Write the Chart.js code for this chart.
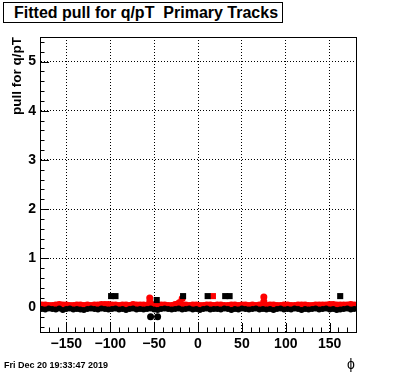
<!DOCTYPE html>
<html>
<head>
<meta charset="utf-8">
<script src="https://cdn.jsdelivr.net/npm/chart.js@4.4.1/dist/chart.umd.min.js"></script>
<style>
  body { margin: 0; background: #fff; }
  #wrap { position: relative; width: 396px; height: 372px; font-family: "Liberation Sans", Arial, sans-serif; }
  #plot { position: absolute; left: 0; top: 0; }
  #title { position: absolute; left: 3px; top: 2px; width: 268px; height: 19px; border: 1px solid #000; background: #fff;
           font-weight: bold; font-size: 16px; line-height: 19px; padding-left: 10px; box-sizing: content-box; white-space: pre; }
  #date { position: absolute; left: 4px; top: 360px; font-size: 9px; font-weight: bold; }
  #xlab { position: absolute; left: 347px; top: 356px; font-size: 14px; }
</style>
</head>
<body>
<div id="wrap">
  <canvas id="plot" width="396" height="372"></canvas>
  <div id="title">Fitted pull for q/pT  Primary Tracks</div>
  <div id="date">Fri Dec 20 19:33:47 2019</div>
  <div id="xlab">ϕ</div>
</div>
<script>
// phi bin centres (degrees)
const phi = [-178,-174,-170,-166,-162,-158,-154,-150,-146,-142,
             -138,-134,-130,-126,-122,-118,-114,-110,-106,-102,
             -98,-94,-90,-86,-82,-78,-74,-70,-66,-62,
             -58,-54,-50,-46,-42,-38,-34,-30,-26,-22,
             -18,-14,-10,-6,-2,2,6,10,14,18,
             22,26,30,34,38,42,46,50,54,58,
             62,66,70,74,78,82,86,90,94,98,
             102,106,110,114,118,122,126,130,134,138,
             142,146,150,154,158,162,166,170,174,178];

// black series: pull, first set (mostly hidden under the red band)
const blackPull = [-0.03,-0.04,-0.02,-0.03,-0.04,-0.02,-0.05,-0.03,-0.02,-0.04,
                   -0.03,-0.04,-0.05,-0.03,-0.02,-0.03,-0.04,-0.02,-0.03,-0.04,
                   -0.03,-0.02,-0.04,-0.03,-0.05,-0.03,-0.02,-0.04,-0.03,-0.04,
                   -0.03,-0.02,-0.04,-0.05,-0.03,-0.02,-0.03,-0.04,-0.03,-0.02,
                   -0.04,-0.03,-0.02,-0.04,-0.03,-0.05,-0.03,-0.02,-0.04,-0.03,
                   -0.03,-0.04,-0.02,-0.03,-0.05,-0.03,-0.04,-0.02,-0.03,-0.04,
                   -0.03,-0.02,-0.04,-0.03,-0.04,-0.03,-0.05,-0.03,-0.02,-0.04,
                   -0.03,-0.04,-0.02,-0.03,-0.05,-0.03,-0.04,-0.03,-0.02,-0.04,
                   -0.03,-0.02,-0.04,-0.03,-0.05,-0.04,-0.03,-0.02,-0.04,-0.03];

// red series: pull, second set
const redPull = [0.03,0.03,0.02,0.02,0.03,0.04,0.03,0.03,0.02,0.02,
                 0.03,0.03,0.02,0.03,0.02,0.03,0.03,0.04,0.04,0.04,
                 0.03,0.03,0.02,0.03,0.03,0.02,0.04,0.03,0.03,0.03,
                 0.02,0.05,0.03,0.02,0.03,0.03,0.02,0.02,0.04,0.06,
                 0.03,0.03,0.02,0.03,0.03,0.02,0.02,0.03,0.03,0.02,
                 0.03,0.03,0.02,0.02,0.03,0.03,0.02,0.03,0.03,0.02,
                 0.03,0.02,0.03,0.03,0.02,0.03,0.03,0.02,0.02,0.03,
                 0.03,0.02,0.02,0.03,0.03,0.03,0.02,0.02,0.03,0.03,
                 0.03,0.03,0.04,0.04,0.03,0.03,0.03,0.03,0.04,0.03];

// isolated points off the band
const blackOutPhi  = [-54, -46];
const blackOutPull = [-0.19, -0.19];
const redSpikePhi  = [-55, -55, -21, -18, 75, 75];
const redSpikePull = [0.11, 0.19, 0.10, 0.18, 0.12, 0.21];
const blackBoxPhi  = [-99, -94, -47, -17, 11, 31, 36, 162];
const blackBoxPull = [0.23, 0.23, 0.15, 0.23, 0.23, 0.23, 0.23, 0.23];
const redBoxPhi    = [17];
const redBoxPull   = [0.23];

const xTicks = [-150, -100, -50, 0, 50, 100, 150];
const yTicks = [0, 1, 2, 3, 4, 5];

function pts(xs, ys) {
    return xs.map((x, i) => ({ x: x, y: ys[i] }));
}

// ROOT-like inside tick marks
const tickMarks = {
    id: 'tickMarks',
    afterDraw(chart) {
        const ctx = chart.ctx;
        const a = chart.chartArea;
        const xs = chart.scales.x, ys = chart.scales.y;
        ctx.save();
        ctx.strokeStyle = '#000';
        ctx.lineWidth = 1;
        ctx.beginPath();
        for (let v = -170; v < 180; v += 10) {
            const px = Math.round(xs.getPixelForValue(v)) + 0.5;
            const len = (v % 50 === 0) ? 9 : 4.5;
            ctx.moveTo(px, a.bottom);
            ctx.lineTo(px, a.bottom - len);
        }
        for (let k = -2; k <= 27; k++) {
            const v = k * 0.2;
            const py = Math.round(ys.getPixelForValue(v)) + 0.5;
            const len = (k % 5 === 0) ? 9 : 4.5;
            ctx.moveTo(a.left, py);
            ctx.lineTo(a.left + len, py);
        }
        ctx.stroke();
        ctx.strokeRect(a.left + 0.5, a.top + 0.5, a.right - a.left, a.bottom - a.top);
        ctx.restore();
    }
};

const tickFont = { family: '"Liberation Sans", Arial, sans-serif', size: 14, weight: 'bold' };

new Chart(document.getElementById('plot'), {
    type: 'scatter',
    data: {
        datasets: [
            { data: pts(phi, blackPull), backgroundColor: '#000', borderColor: '#000', pointRadius: 3, pointBorderWidth: 0 },
            { data: pts(blackOutPhi, blackOutPull), backgroundColor: '#000', borderColor: '#000', pointRadius: 3.5, pointBorderWidth: 0 },
            { data: pts(blackBoxPhi, blackBoxPull), backgroundColor: '#000', borderColor: '#000', pointStyle: 'rect', pointRadius: 4.3, pointBorderWidth: 0 },
            { data: pts(phi, redPull), backgroundColor: '#f00', borderColor: '#f00', pointRadius: 4.5, pointBorderWidth: 0 },
            { data: pts(redSpikePhi, redSpikePull), backgroundColor: '#f00', borderColor: '#f00', pointRadius: 3.5, pointBorderWidth: 0 },
            { data: pts(redBoxPhi, redBoxPull), backgroundColor: '#f00', borderColor: '#f00', pointStyle: 'rect', pointRadius: 4.3, pointBorderWidth: 0 }
        ]
    },
    options: {
        responsive: false,
        animation: false,
        events: [],
        layout: { padding: { top: 37, right: 40, left: 0, bottom: 0 } },
        plugins: { legend: { display: false }, tooltip: { enabled: false } },
        scales: {
            x: {
                type: 'linear', min: -180, max: 180,
                afterBuildTicks: s => { s.ticks = xTicks.map(v => ({ value: v })); },
                afterFit: s => { s.height = 40; },
                grid: { color: '#000', lineWidth: 1, drawTicks: false },
                border: { display: true, color: '#000', dash: [1, 2] },
                ticks: { color: '#000', font: tickFont, padding: 4, maxRotation: 0,
                         callback: v => String(v).replace('-', '\u2212') }
            },
            y: {
                type: 'linear', min: -0.5, max: 5.5,
                afterBuildTicks: s => { s.ticks = yTicks.map(v => ({ value: v })); },
                afterFit: s => { s.width = 40; },
                grid: { color: '#000', lineWidth: 1, drawTicks: false },
                border: { display: true, color: '#000', dash: [1, 2] },
                title: { display: true, text: 'pull for q/pT', align: 'end', color: '#000',
                         font: { family: '"Liberation Sans", Arial, sans-serif', size: 13.5, weight: 'bold' }, padding: { top: 9, bottom: 0 } },
                ticks: { color: '#000', font: tickFont, padding: 4 }
            }
        }
    },
    plugins: [tickMarks]
});
</script>
</body>
</html>
